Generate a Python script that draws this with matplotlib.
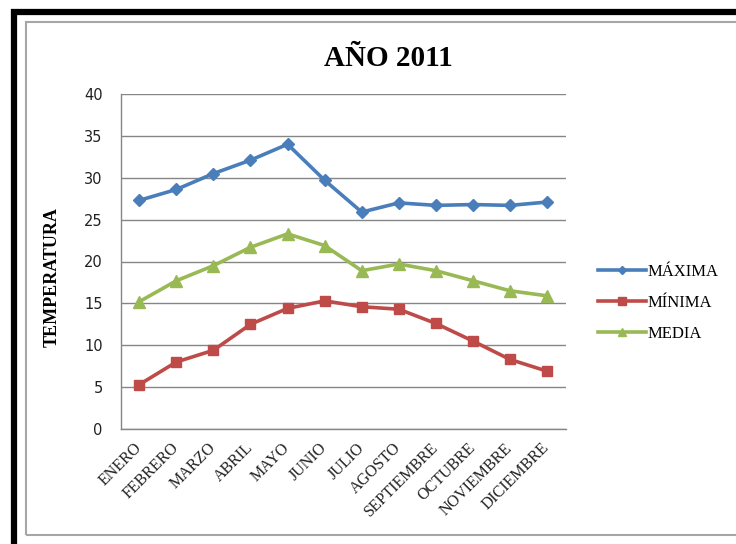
import matplotlib
matplotlib.use("Agg")
import matplotlib.pyplot as plt
from matplotlib.patches import Rectangle

months = ["ENERO", "FEBRERO", "MARZO", "ABRIL", "MAYO", "JUNIO", "JULIO",
          "AGOSTO", "SEPTIEMBRE", "OCTUBRE", "NOVIEMBRE", "DICIEMBRE"]
maxima = [27.3, 28.6, 30.5, 32.1, 34.0, 29.7, 25.9, 27.0, 26.7, 26.8, 26.7, 27.1]
minima = [5.3, 8.0, 9.4, 12.5, 14.4, 15.3, 14.6, 14.3, 12.6, 10.5, 8.3, 6.9]
media = [15.2, 17.7, 19.5, 21.7, 23.3, 21.9, 18.9, 19.7, 18.9, 17.7, 16.5, 15.9]
yticks = [0, 5, 10, 15, 20, 25, 30, 35, 40]

W, H = 736, 544
fig = plt.figure(figsize=(W / 100, H / 100), dpi=100)

# frames
fig.patches.append(Rectangle((14 / W, -0.05), 1.2, (H - 12) / H + 0.05, transform=fig.transFigure,
                             fill=False, edgecolor="black", linewidth=4.5))
fig.patches.append(Rectangle((25.5 / W, 1 - 535 / H), 1.2, (535 - 21.5) / H, transform=fig.transFigure,
                             fill=False, edgecolor="#a6a6a6", linewidth=1.5))

ax = fig.add_axes([120.7 / W, 1 - 429 / H, (565.7 - 120.7) / W, (429 - 94) / H])
x = list(range(len(months)))
ax.plot(x, maxima, color="#4A7EBB", lw=2.6, marker="D", ms=6.5, label="MÁXIMA", zorder=3)
ax.plot(x, minima, color="#BE4B48", lw=2.6, marker="s", ms=7.5, label="MÍNIMA", zorder=3)
ax.plot(x, media, color="#98B954", lw=2.6, marker="^", ms=8, label="MEDIA", zorder=3)

ax.set_xlim(-0.5, len(months) - 0.5)
ax.set_ylim(0, 40)
ax.set_yticks(yticks)
ax.set_yticklabels([str(v) for v in yticks], fontfamily="DejaVu Sans", fontsize=10.5, color="#222222")
ax.grid(axis="y", color="#868686", lw=1)
ax.set_axisbelow(True)
ax.set_xticks(x)
ax.set_xticklabels(months, rotation=45, ha="right", va="center", rotation_mode="anchor",
                   fontfamily="Liberation Serif", fontsize=11.5, color="#222222")
ax.tick_params(axis="y", length=0, pad=13)
ax.tick_params(axis="x", length=0, pad=12)
for s in ["top", "right"]:
    ax.spines[s].set_visible(False)
for s in ["left", "bottom"]:
    ax.spines[s].set_color("#868686")
    ax.spines[s].set_linewidth(1)

ax.set_ylabel("TEMPERATURA", fontfamily="Liberation Serif", fontweight="bold", fontsize=13)
ax.yaxis.set_label_coords(61 / W, 1 - 277 / H, transform=fig.transFigure)

fig.text(388 / W, 1 - 58 / H, "AÑO 2011", fontfamily="Liberation Serif", fontweight="bold",
         fontsize=21, ha="center", va="center")

leg = ax.legend(loc="center left", bbox_to_anchor=(583 / W, 1 - 303 / H), bbox_transform=fig.transFigure,
                frameon=False, prop={"family": "Liberation Serif", "size": 12},
                handlelength=2.9, handletextpad=0.1, labelspacing=0.9, markerscale=0.7)

fig.savefig("out.png", dpi=100)
